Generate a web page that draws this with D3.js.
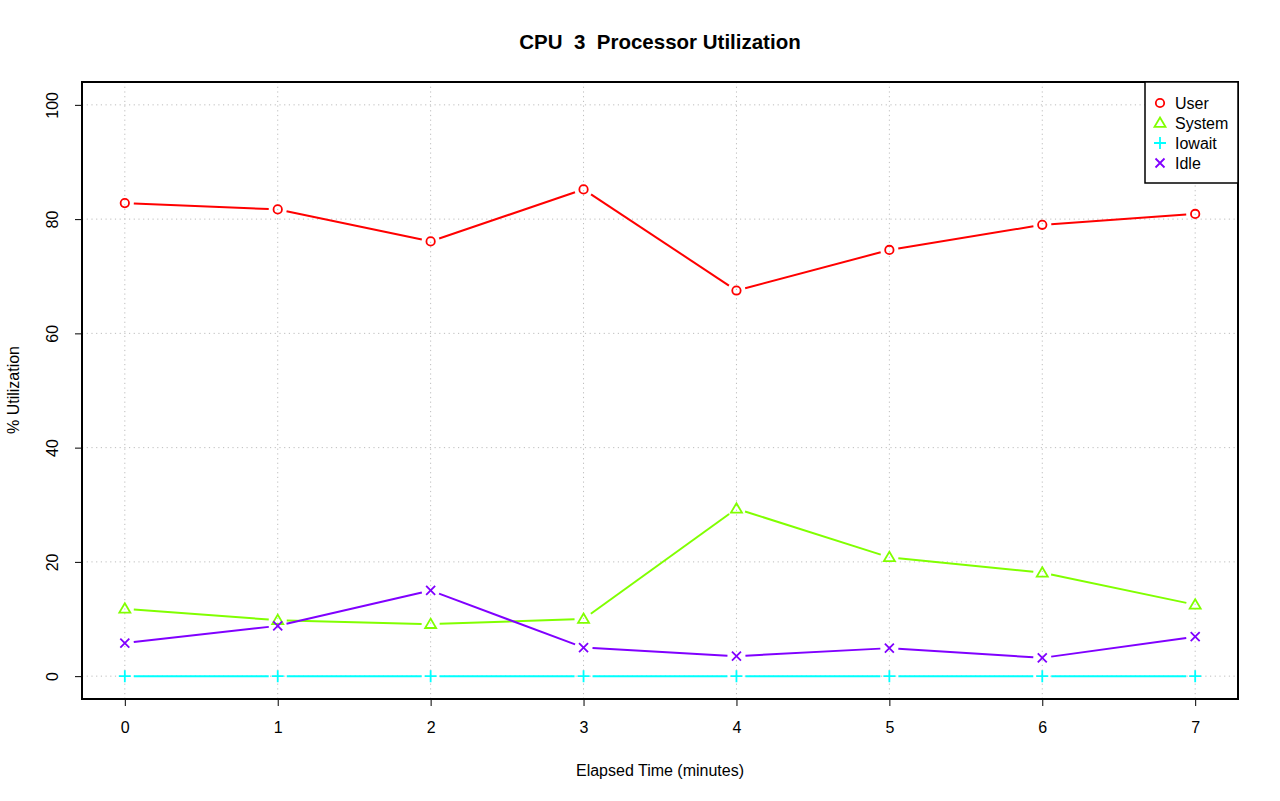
<!DOCTYPE html>
<html>
<head>
<meta charset="utf-8">
<script src="https://cdn.jsdelivr.net/npm/d3@7"></script>
<style>
  body { margin: 0; background: #fff; }
  text { font-family: "Liberation Sans", Arial, sans-serif; fill: #000; white-space: pre; }
</style>
</head>
<body>
<svg id="chart" width="1280" height="801"></svg>
<script>
// data
const minutes = [0, 1, 2, 3, 4, 5, 6, 7];
const userPct   = [82.8, 81.7, 76.1, 85.2, 67.5, 74.6, 79.0, 80.9];
const systemPct = [11.8, 9.8, 9.1, 10.0, 29.3, 20.8, 18.1, 12.5];
const iowaitPct = [0, 0, 0, 0, 0, 0, 0, 0];
const idlePct   = [5.8, 8.8, 15.0, 5.0, 3.5, 4.9, 3.2, 6.9];
const seriesNames = ["User", "System", "Iowait", "Idle"];
const seriesColors = ["#FF0000", "#80FF00", "#00FFFF", "#8000FF"];
const seriesShapes = ["circle", "triangle", "plus", "cross"];
const yTicks = [0, 20, 40, 60, 80, 100];

const svg = d3.select("#chart");
const boxL = 82, boxR = 1238, boxT = 82, boxB = 699;
const fontSize = "16px";

// R-style 4% padding on both axes
const x = d3.scaleLinear().domain([-0.28, 7.28]).range([boxL, boxR]);
const y = d3.scaleLinear().domain([-4, 104]).range([boxB, boxT]);

// grid
let grid = svg.append("g").attr("id", "grid");
grid.selectAll("line.vx").data(minutes).enter().append("line")
    .attr("x1", d => x(d)).attr("x2", d => x(d))
    .attr("y1", boxT).attr("y2", boxB)
    .attr("stroke", "#bdbdbd").attr("stroke-dasharray", "1.2,3.5");
grid.selectAll("line.hy").data(yTicks).enter().append("line")
    .attr("y1", d => y(d)).attr("y2", d => y(d))
    .attr("x1", boxL).attr("x2", boxR)
    .attr("stroke", "#bdbdbd").attr("stroke-dasharray", "1.2,3.5");

// axes
let xAxis = svg.append("g").attr("transform", `translate(0,${boxB})`)
    .call(d3.axisBottom(x).tickValues(minutes).tickSize(7).tickPadding(16).tickFormat(d3.format("d")));
let yAxis = svg.append("g").attr("transform", `translate(${boxL},0)`)
    .call(d3.axisLeft(y).tickValues(yTicks).tickSize(7).tickPadding(0));
[xAxis, yAxis].forEach(a => {
    a.select(".domain").remove();
    a.selectAll(".tick line").attr("stroke", "#000");
    a.selectAll("text").style("font-size", fontSize).style("font-family", "Liberation Sans, Arial, sans-serif");
});
yAxis.selectAll(".tick text")
    .attr("text-anchor", "middle")
    .attr("transform", "translate(-30,0) rotate(-90)")
    .attr("x", 0).attr("dy", "0.35em");

// plot box
svg.append("rect").attr("x", boxL).attr("y", boxT)
    .attr("width", boxR - boxL).attr("height", boxB - boxT)
    .attr("fill", "none").attr("stroke", "#000").attr("stroke-width", 2);

// markers
function drawMarker(g, shape, cx, cy, color) {
    if (shape === "circle") {
        g.append("circle").attr("cx", cx).attr("cy", cy).attr("r", 4.2)
            .attr("fill", "none").attr("stroke", color).attr("stroke-width", 1.8);
    } else if (shape === "triangle") {
        const h = 5.5;
        g.append("path")
            .attr("d", `M${cx},${cy - h} L${cx + h},${cy + h * 0.7} L${cx - h},${cy + h * 0.7} Z`)
            .attr("fill", "none").attr("stroke", color).attr("stroke-width", 1.8);
    } else if (shape === "plus") {
        const s = 6;
        g.append("path").attr("d", `M${cx - s},${cy} H${cx + s} M${cx},${cy - s} V${cy + s}`)
            .attr("stroke", color).attr("stroke-width", 1.8);
    } else {
        const s = 4.5;
        g.append("path").attr("d", `M${cx - s},${cy - s} L${cx + s},${cy + s} M${cx - s},${cy + s} L${cx + s},${cy - s}`)
            .attr("stroke", color).attr("stroke-width", 1.8);
    }
}

// lines with gaps round the points (type = "b")
const allSeries = [userPct, systemPct, iowaitPct, idlePct];
const gap = 9;
allSeries.forEach((vals, si) => {
    const color = seriesColors[si];
    const g = svg.append("g").attr("class", "series");
    const pts = vals.map((v, i) => [x(minutes[i]), y(v)]);
    const segs = [];
    for (let i = 0; i < pts.length - 1; i++) {
        const [x1, y1] = pts[i], [x2, y2] = pts[i + 1];
        const len = Math.hypot(x2 - x1, y2 - y1);
        const ux = (x2 - x1) / len, uy = (y2 - y1) / len;
        segs.push([x1 + ux * gap, y1 + uy * gap, x2 - ux * gap, y2 - uy * gap]);
    }
    g.selectAll("line").data(segs).enter().append("line")
        .attr("x1", d => d[0]).attr("y1", d => d[1])
        .attr("x2", d => d[2]).attr("y2", d => d[3])
        .attr("stroke", color).attr("stroke-width", 2);
    pts.forEach(p => drawMarker(g, seriesShapes[si], p[0], p[1], color));
});

// legend
const lg = svg.append("g");
lg.append("rect").attr("x", 1145).attr("y", boxT).attr("width", boxR - 1145).attr("height", 101)
    .attr("fill", "#fff").attr("stroke", "#000").attr("stroke-width", 1.5);
seriesNames.forEach((name, i) => {
    const ly = 103 + i * 20;
    drawMarker(lg, seriesShapes[i], 1160, ly, seriesColors[i]);
    lg.append("text").attr("x", 1175).attr("y", ly).attr("dy", "0.35em")
        .style("font-size", fontSize).text(name);
});

// titles
svg.append("text").attr("x", 660).attr("y", 49).attr("text-anchor", "middle")
    .style("font-size", "20.5px").style("font-weight", "bold").text("CPU  3  Processor Utilization");
svg.append("text").attr("x", 660).attr("y", 776).attr("text-anchor", "middle")
    .style("font-size", fontSize).text("Elapsed Time (minutes)");
svg.append("text").attr("transform", "translate(19,390) rotate(-90)").attr("text-anchor", "middle")
    .style("font-size", fontSize).text("% Utilization");
</script>
</body>
</html>
